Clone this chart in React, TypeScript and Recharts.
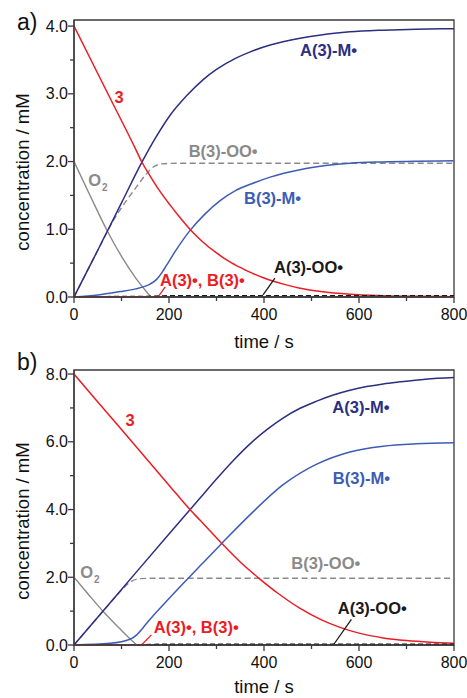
import React from 'react';
import {
  LineChart,
  Line,
  XAxis,
  YAxis,
  ReferenceArea,
  ReferenceDot,
  ReferenceLine,
} from 'recharts';

// ---- panel a) : [3]0 = 4 mM, [O2]0 = 2 mM ----
const timeA_3 = [0, 70, 130, 143, 160, 180, 202, 220, 244, 270, 300, 330, 360, 400, 441, 476, 520, 581, 650, 720, 800];
const concA_3 = [4.0, 3.02, 2.18, 1.99, 1.79, 1.57, 1.36, 1.2, 1.0, 0.82, 0.65, 0.51, 0.4, 0.28, 0.19, 0.13, 0.08, 0.04, 0.02, 0.01, 0.005];

const timeA_AM = [0, 50, 100, 143, 170, 202, 237, 272, 300, 342, 371, 413, 476, 520, 581, 650, 720, 800];
const concA_AM = [0, 0.69, 1.39, 1.99, 2.33, 2.68, 2.97, 3.21, 3.36, 3.53, 3.62, 3.72, 3.82, 3.87, 3.915, 3.94, 3.955, 3.96];

const timeA_BM = [0, 50, 97, 130, 146, 160, 174, 185, 195, 210, 244, 275, 307, 340, 377, 413, 476, 530, 581, 650, 720, 800];
const concA_BM = [0, 0.03, 0.08, 0.12, 0.15, 0.19, 0.26, 0.36, 0.47, 0.64, 0.98, 1.22, 1.42, 1.57, 1.68, 1.77, 1.88, 1.94, 1.975, 1.995, 2.005, 2.01];

const timeA_BOO = [0, 50, 83, 110, 132, 150, 167, 185, 220, 800];
const concA_BOO = [0, 0.69, 1.13, 1.42, 1.63, 1.8, 1.92, 1.965, 1.975, 1.975];

const timeA_O2 = [0, 35, 69, 100, 130, 150, 162];
const concA_O2 = [2.0, 1.48, 0.99, 0.6, 0.28, 0.1, 0.0];

const timeA_rad = [0, 165, 175, 190];
const concA_rad = [0.006, 0.006, 0.0, 0.0];

const timeA_AOO = [0, 160, 200, 800];
const concA_AOO = [0.005, 0.01, 0.02, 0.02];

// ---- panel b) : [3]0 = 8 mM, [O2]0 = 2 mM ----
const timeB_3 = [0, 100, 200, 244, 265, 311, 350, 392, 430, 476, 520, 560, 600, 651, 700, 750, 800];
const concB_3 = [8.0, 6.36, 4.72, 4.0, 3.69, 3.0, 2.45, 1.94, 1.52, 1.08, 0.75, 0.52, 0.35, 0.21, 0.13, 0.08, 0.05];

const timeB_AM = [0, 100, 200, 265, 300, 335, 370, 406, 440, 476, 511, 546, 581, 616, 651, 686, 740, 800];
const concB_AM = [0, 1.64, 3.28, 4.33, 4.9, 5.44, 5.93, 6.36, 6.7, 6.99, 7.2, 7.38, 7.52, 7.63, 7.71, 7.77, 7.85, 7.9];

const timeB_BM = [0, 76, 118, 132, 145, 153, 202, 237, 265, 311, 371, 441, 511, 581, 651, 720, 800];
const concB_BM = [0, 0.05, 0.17, 0.3, 0.5, 0.64, 1.4, 1.92, 2.33, 3.0, 3.85, 4.74, 5.34, 5.7, 5.87, 5.94, 5.97];

const timeB_BOO = [0, 60, 90, 104, 121, 139, 160, 800];
const concB_BOO = [0, 0.98, 1.46, 1.68, 1.88, 1.96, 1.97, 1.97];

const timeB_O2 = [0, 30, 62, 95, 115, 132];
const concB_O2 = [2.0, 1.5, 0.98, 0.5, 0.22, 0.0];

const timeB_rad = [0, 140, 150, 165];
const concB_rad = [0.008, 0.008, 0.0, 0.0];

const timeB_AOO = [0, 140, 180, 800];
const concB_AOO = [0.005, 0.01, 0.02, 0.02];

// axes
const xTicks = [0, 100, 200, 300, 400, 500, 600, 700, 800];
const yTicksA = [0, 0.5, 1, 1.5, 2, 2.5, 3, 3.5, 4];
const yTicksB = [0, 1, 2, 3, 4, 5, 6, 7, 8];

const RED = '#ec1c24';
const NAVY = '#2b2f7f';
const BLUE = '#3d5cb4';
const GRAY = '#8a8a8a';
const BLACK = '#1a1a1a';
const AXIS = '#3a3a3a';
const FONT = 'Arial, "Liberation Sans", Helvetica, sans-serif';

const pts = (t: number[], c: number[]) => t.map((x, i) => ({ t: x, v: c[i] }));

function XTick({ x, y, payload }: any) {
  const major = payload.value % 200 === 0;
  return (
    <g>
      <line x1={x} x2={x} y1={y} y2={y + (major ? 6 : 4)} stroke={AXIS} strokeWidth={1.3} />
      {major && (
        <text x={x} y={y + 23} textAnchor="middle" fontSize={16} fontFamily={FONT} fill="#111">
          {payload.value}
        </text>
      )}
    </g>
  );
}

function YTick({ x, y, payload, step }: any) {
  const major = Math.abs(payload.value / step - Math.round(payload.value / step)) < 1e-6;
  return (
    <g>
      <line x1={x - (major ? 6 : 4)} x2={x} y1={y} y2={y} stroke={AXIS} strokeWidth={1.3} />
      {major && (
        <text x={x - 6} y={y + 5.5} textAnchor="end" fontSize={16} fontFamily={FONT} fill="#111">
          {payload.value.toFixed(1)}
        </text>
      )}
    </g>
  );
}

type Series = { data: { t: number; v: number }[]; stroke: string; width: number; dash?: string };
type Note = { t: number; v: number; text: string; color: string; anchor?: 'start' | 'middle' | 'end'; sub?: string };
type Pointer = { t1: number; v1: number; t2: number; v2: number; color: string };

function Note({ cx, cy, note }: any) {
  return (
    <text
      x={cx}
      y={cy + 6}
      textAnchor={note.anchor || 'middle'}
      fontSize={16.5}
      fontWeight="bold"
      fontFamily={FONT}
      fill={note.color}
    >
      {note.text}
      {note.sub && (
        <tspan fontSize={10} dy={5} dx={1}>
          {note.sub}
        </tspan>
      )}
    </text>
  );
}

function Panel({
  top,
  height,
  yMax,
  yTicks,
  step,
  series,
  notes,
  pointers,
}: {
  top: number;
  height: number;
  yMax: number;
  yTicks: number[];
  step: number;
  series: Series[];
  notes: Note[];
  pointers: Pointer[];
}) {
  return (
    <div style={{ position: 'absolute', left: 0, top }}>
      <LineChart width={467} height={height} margin={{ top: 20, right: 13, bottom: 0, left: 0 }}>
        <XAxis
          dataKey="t"
          type="number"
          domain={[0, 800]}
          ticks={xTicks}
          interval={0}
          height={53}
          tickSize={0}
          tickMargin={0}
          tickLine={false}
          axisLine={{ stroke: AXIS, strokeWidth: 1.3 }}
          tick={<XTick />}
          allowDataOverflow
        />
        <YAxis
          type="number"
          domain={[0, yMax]}
          ticks={yTicks}
          interval={0}
          width={74}
          tickSize={0}
          tickMargin={0}
          tickLine={false}
          axisLine={{ stroke: AXIS, strokeWidth: 1.3 }}
          tick={<YTick step={step} />}
          allowDataOverflow
        />
        <ReferenceArea x1={0} x2={800} y1={0} y2={yMax} fill="none" stroke={AXIS} strokeWidth={1.3} />
        {series.map((s, i) => (
          <Line
            key={i}
            data={s.data}
            dataKey="v"
            type="monotone"
            stroke={s.stroke}
            strokeWidth={s.width}
            strokeDasharray={s.dash}
            dot={false}
            activeDot={false}
            isAnimationActive={false}
          />
        ))}
        {pointers.map((p, i) => (
          <ReferenceLine
            key={'p' + i}
            segment={[
              { x: p.t1, y: p.v1 },
              { x: p.t2, y: p.v2 },
            ]}
            stroke={p.color}
            strokeWidth={1.3}
          />
        ))}
        {notes.map((n, i) => (
          <ReferenceDot
            key={'n' + i}
            x={n.t}
            y={n.v}
            r={0}
            shape={(props: any) => <Note {...props} note={n} />}
          />
        ))}
      </LineChart>
    </div>
  );
}

const seriesA: Series[] = [
  { data: pts(timeA_O2, concA_O2), stroke: GRAY, width: 1.4 },
  { data: pts(timeA_BOO, concA_BOO), stroke: GRAY, width: 1.4, dash: '6 3.5' },
  { data: pts(timeA_AM, concA_AM), stroke: NAVY, width: 1.5 },
  { data: pts(timeA_BM, concA_BM), stroke: BLUE, width: 1.5 },
  { data: pts(timeA_3, concA_3), stroke: RED, width: 1.5 },
  { data: pts(timeA_AOO, concA_AOO), stroke: BLACK, width: 1.4, dash: '5 3' },
  { data: pts(timeA_rad, concA_rad), stroke: RED, width: 1.4, dash: '5 3' },
];

const seriesB: Series[] = [
  { data: pts(timeB_O2, concB_O2), stroke: GRAY, width: 1.4 },
  { data: pts(timeB_BOO, concB_BOO), stroke: GRAY, width: 1.4, dash: '6 3.5' },
  { data: pts(timeB_AM, concB_AM), stroke: NAVY, width: 1.5 },
  { data: pts(timeB_BM, concB_BM), stroke: BLUE, width: 1.5 },
  { data: pts(timeB_3, concB_3), stroke: RED, width: 1.5 },
  { data: pts(timeB_AOO, concB_AOO), stroke: BLACK, width: 1.4, dash: '5 3' },
  { data: pts(timeB_rad, concB_rad), stroke: RED, width: 1.4, dash: '5 3' },
];

const notesA: Note[] = [
  { t: 95, v: 2.96, text: '3', color: RED },
  { t: 536, v: 3.64, text: 'A(3)-M•', color: NAVY },
  { t: 314, v: 2.16, text: 'B(3)-OO•', color: GRAY },
  { t: 30, v: 1.73, text: 'O', sub: '2', color: GRAY, anchor: 'start' },
  { t: 418, v: 1.46, text: 'B(3)-M•', color: BLUE },
  { t: 181, v: 0.25, text: 'A(3)•, B(3)•', color: RED, anchor: 'start' },
  { t: 421, v: 0.45, text: 'A(3)-OO•', color: BLACK, anchor: 'start' },
];

const notesB: Note[] = [
  { t: 118, v: 6.64, text: '3', color: RED },
  { t: 604, v: 7.03, text: 'A(3)-M•', color: NAVY },
  { t: 605, v: 4.93, text: 'B(3)-M•', color: BLUE },
  { t: 530, v: 2.42, text: 'B(3)-OO•', color: GRAY },
  { t: 13, v: 2.16, text: 'O', sub: '2', color: GRAY, anchor: 'start' },
  { t: 168, v: 0.53, text: 'A(3)•, B(3)•', color: RED, anchor: 'start' },
  { t: 628, v: 1.09, text: 'A(3)-OO•', color: BLACK },
];

const pointersA: Pointer[] = [
  { t1: 192, v1: 0.15, t2: 177, v2: 0.0, color: RED },
  { t1: 423, v1: 0.28, t2: 398, v2: 0.03, color: BLACK },
];

const pointersB: Pointer[] = [
  { t1: 163, v1: 0.3, t2: 142, v2: 0.0, color: RED },
  { t1: 584, v1: 0.76, t2: 546, v2: 0.0, color: BLACK },
];

export default function App() {
  return (
    <div style={{ position: 'absolute', left: 0, top: 0, width: 467, height: 698, background: '#fff', fontFamily: FONT }}>
      <Panel top={0} height={350} yMax={4.09} yTicks={yTicksA} step={1} series={seriesA} notes={notesA} pointers={pointersA} />
      <Panel top={350} height={348} yMax={8.12} yTicks={yTicksB} step={2} series={seriesB} notes={notesB} pointers={pointersB} />
      <svg width={467} height={698} style={{ position: 'absolute', left: 0, top: 0, pointerEvents: 'none' }}>
        <g fontFamily={FONT} fill="#111">
          <text x={17} y={30} fontSize={23}>a)</text>
          <text x={17} y={370} fontSize={23}>b)</text>
          <text x={29} y={172} fontSize={18.5} textAnchor="middle" transform="rotate(-90 29 172)">
            concentration / mM
          </text>
          <text x={29} y={521} fontSize={18.5} textAnchor="middle" transform="rotate(-90 29 521)">
            concentration / mM
          </text>
          <text x={264} y={348} fontSize={18.5} textAnchor="middle">time / s</text>
          <text x={264} y={693} fontSize={18.5} textAnchor="middle">time / s</text>
        </g>
      </svg>
    </div>
  );
}
